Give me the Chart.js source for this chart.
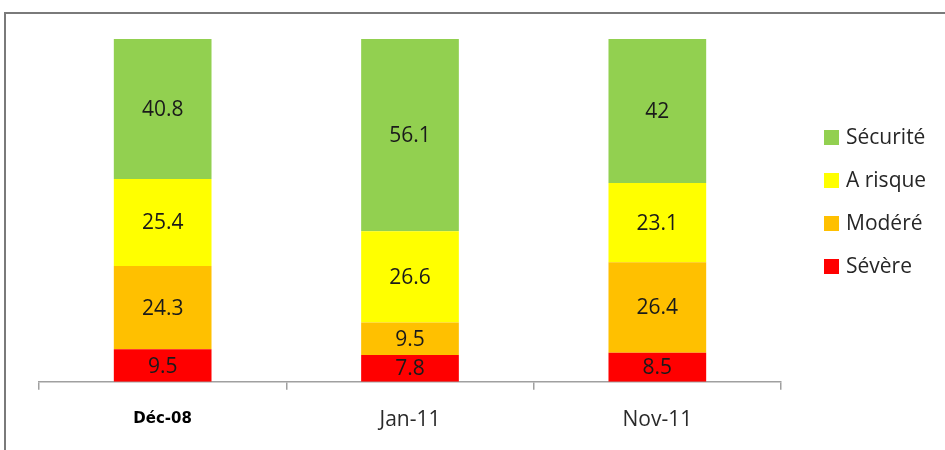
<!DOCTYPE html>
<html>
<head>
<meta charset="utf-8">
<script src="https://cdn.jsdelivr.net/npm/chart.js@4/dist/chart.umd.min.js"></script>
<style>
  html, body { margin: 0; padding: 0; background: #fff; }
  #wrap { width: 945px; height: 450px; position: relative; }
</style>
</head>
<body>
<div id="wrap"><canvas id="chart" width="945" height="450"></canvas></div>
<script>
const categories = ['Déc-08', 'Jan-11', 'Nov-11'];
const severe = [9.5, 7.8, 8.5];
const modere = [24.3, 9.5, 26.4];
const aRisque = [25.4, 26.6, 23.1];
const securite = [40.8, 56.1, 42];

const FONT = '"Open Sans", "Liberation Sans", sans-serif';

// frame around the chart (top and left edges visible)
const framePlugin = {
    id: 'frame',
    beforeDraw(chart) {
        const ctx = chart.ctx;
        ctx.save();
        ctx.strokeStyle = '#7a7a7a';
        ctx.lineWidth = 2;
        ctx.beginPath();
        ctx.moveTo(945, 13);
        ctx.lineTo(5, 13);
        ctx.lineTo(5, 450);
        ctx.stroke();
        ctx.restore();
    }
};

// value labels in the middle of each segment
const valueLabels = {
    id: 'valueLabels',
    afterDatasetsDraw(chart) {
        const ctx = chart.ctx;
        ctx.save();
        ctx.font = '21px ' + FONT;
        ctx.fillStyle = '#1a1a1a';
        ctx.textAlign = 'center';
        ctx.textBaseline = 'middle';
        chart.data.datasets.forEach((ds, i) => {
            chart.getDatasetMeta(i).data.forEach((bar, j) => {
                const p = bar.getCenterPoint();
                ctx.fillText(String(ds.data[j]), p.x, p.y + 1);
            });
        });
        ctx.restore();
    }
};

// legend on the right, top item = last dataset
const sideLegend = {
    id: 'sideLegend',
    afterDraw(chart) {
        const ctx = chart.ctx;
        const ds = chart.data.datasets.slice().reverse();
        ctx.save();
        ctx.font = '21px ' + FONT;
        ctx.textBaseline = 'middle';
        ds.forEach((d, i) => {
            const y = 137 + i * 43;
            ctx.fillStyle = d.backgroundColor;
            ctx.fillRect(824, y - 7, 15, 15);
            ctx.fillStyle = '#262626';
            ctx.fillText(d.label, 846, y + 1);
        });
        ctx.restore();
    }
};

new Chart(document.getElementById('chart'), {
    type: 'bar',
    data: {
        labels: categories,
        datasets: [
            { label: 'Sévère', data: severe, backgroundColor: '#FF0000' },
            { label: 'Modéré', data: modere, backgroundColor: '#FFC000' },
            { label: 'A risque', data: aRisque, backgroundColor: '#FFFF00' },
            { label: 'Sécurité', data: securite, backgroundColor: '#92D050' }
        ]
    },
    options: {
        responsive: false,
        animation: false,
        devicePixelRatio: 1,
        layout: { padding: { top: 39, left: 39, right: 164, bottom: 0 } },
        datasets: {
            bar: { categoryPercentage: 1, barPercentage: 0.395, borderWidth: 0 }
        },
        scales: {
            x: {
                stacked: true,
                border: { display: true, color: '#a0a0a0', width: 1.5 },
                grid: {
                    offset: true,
                    drawOnChartArea: false,
                    drawTicks: true,
                    tickLength: 8,
                    color: '#a0a0a0',
                    lineWidth: 1.5
                },
                ticks: {
                    color: (c) => c.index === 0 ? '#000' : '#2a2a2a',
                    padding: 18,
                    font: (c) => c.index === 0
                        ? { family: '"DejaVu Sans"', size: 15, weight: 'bold', lineHeight: 1.5 }
                        : { family: FONT, size: 21, lineHeight: 1.15 }
                }
            },
            y: {
                stacked: true,
                display: false,
                min: 0,
                max: 100
            }
        },
        plugins: {
            legend: { display: false },
            tooltip: { enabled: false }
        }
    },
    plugins: [framePlugin, valueLabels, sideLegend]
});
</script>
</body>
</html>
